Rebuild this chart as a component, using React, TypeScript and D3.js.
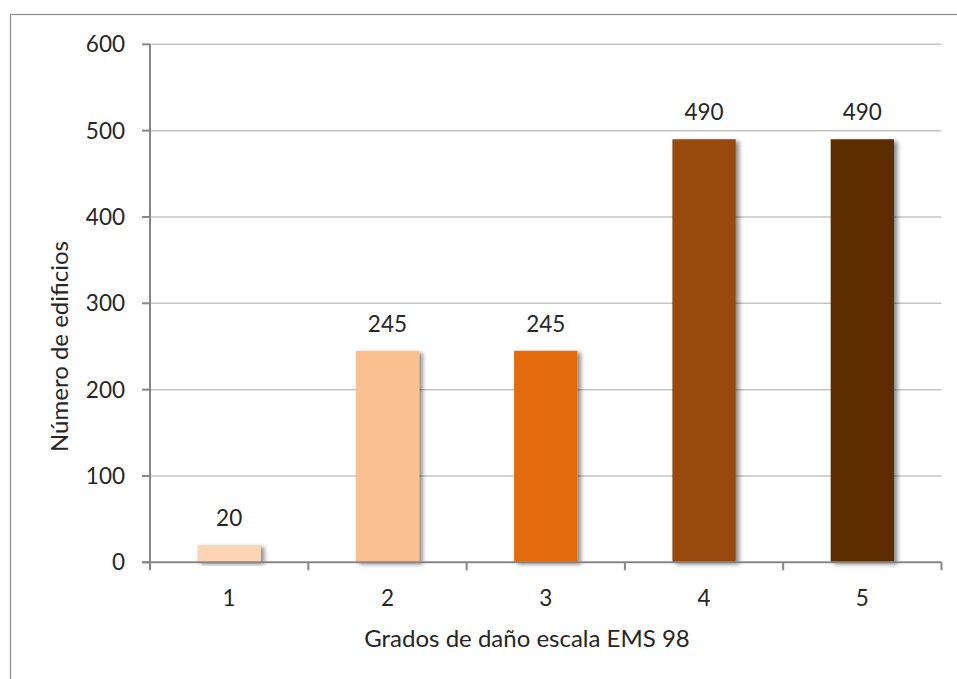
import React from "react";
import * as d3 from "d3";

// Number of damaged buildings per EMS-98 damage grade
const grades = ["1", "2", "3", "4", "5"];
const buildings = [20, 245, 245, 490, 490];
const barColors = ["#FCD5B5", "#FAC090", "#E46C0A", "#984807", "#5E2D06"];
const yTicks = [0, 100, 200, 300, 400, 500, 600];

const W = 957;
const H = 679;
const FONT = "Lato, 'Open Sans', sans-serif";
const NUM_SIZE = 22.5;
const TITLE_SIZE = 24;

export default function App() {
  const left = 150;
  const right = 941.5;
  const top = 44.3;
  const bottom = 562.3;

  const x = d3.scaleBand<string>().domain(grades).range([left, right]).paddingInner(0.6).paddingOuter(0.3);
  const xTick = d3.scaleBand<string>().domain(grades).range([left, right]);
  const y = d3.scaleLinear().domain([0, 600]).range([bottom, top]);

  return (
    <svg
      width={W}
      height={H}
      style={{ position: "absolute", left: 0, top: 0, background: "#fff" }}
      fontFamily={FONT}
    >
      <defs>
        <filter id="barShadow" x="-20%" y="-20%" width="160%" height="140%">
          <feDropShadow dx="3.5" dy="2" stdDeviation="2" floodColor="#000" floodOpacity="0.45" />
        </filter>
      </defs>
      <rect x={0} y={0} width={W} height={H} fill="#fff" />
      {/* chart frame */}
      <rect x={10.5} y={14.5} width={W + 20} height={H + 20} fill="none" stroke="#8c8c8c" strokeWidth={1.2} />

      {/* gridlines */}
      {yTicks.filter((t) => t > 0).map((t) => (
        <line key={t} x1={left} x2={right} y1={y(t)} y2={y(t)} stroke="#c4c4c4" strokeWidth={1.5} />
      ))}

      {/* bars */}
      {buildings.map((v, i) => (
        <rect
          key={grades[i]}
          x={x(grades[i])}
          y={y(v)}
          width={x.bandwidth()}
          height={bottom - y(v)}
          fill={barColors[i]}
          filter="url(#barShadow)"
        />
      ))}

      {/* y axis */}
      <line x1={left} x2={left} y1={top} y2={bottom} stroke="#868686" strokeWidth={2} />
      {yTicks.map((t) => (
        <g key={t}>
          <line x1={left - 8} x2={left} y1={y(t)} y2={y(t)} stroke="#868686" strokeWidth={2} />
          <text x={125} y={y(t)} dy="0.36em" textAnchor="end" fontSize={NUM_SIZE} fill="#262626">
            {t}
          </text>
        </g>
      ))}

      {/* x axis */}
      <line x1={left - 8} x2={right} y1={bottom} y2={bottom} stroke="#868686" strokeWidth={2} />
      {grades.map((g) => (
        <line key={g} x1={xTick(g)} x2={xTick(g)} y1={bottom} y2={bottom + 8} stroke="#868686" strokeWidth={2} />
      ))}
      <line x1={right} x2={right} y1={bottom} y2={bottom + 8} stroke="#868686" strokeWidth={2} />
      {grades.map((g) => (
        <text key={g} x={xTick(g)! + xTick.bandwidth() / 2} y={606} textAnchor="middle" fontSize={NUM_SIZE} fill="#262626">
          {g}
        </text>
      ))}

      {/* value labels */}
      {buildings.map((v, i) => (
        <text
          key={grades[i]}
          x={x(grades[i])! + x.bandwidth() / 2}
          y={y(v) - 19}
          textAnchor="middle"
          fontSize={NUM_SIZE}
          fill="#262626"
        >
          {v}
        </text>
      ))}

      {/* axis titles */}
      <text x={527} y={647} textAnchor="middle" fontSize={TITLE_SIZE} fill="#262626">
        Grados de daño escala EMS 98
      </text>
      <text
        transform={`translate(68, 346.5) rotate(-90)`}
        textAnchor="middle"
        fontSize={TITLE_SIZE}
        fill="#262626"
      >
        Número de edificios
      </text>
    </svg>
  );
}
